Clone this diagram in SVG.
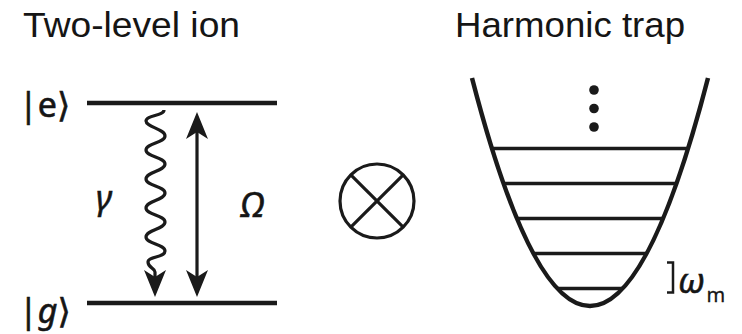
<svg xmlns="http://www.w3.org/2000/svg" width="742" height="334" viewBox="0 0 742 334">
<style>
.title{font-family:"Liberation Sans",Arial,sans-serif;font-size:35px;fill:#151515}
.lbl{font-family:"Noto Sans","DejaVu Sans",sans-serif;font-size:34px;fill:#151515;stroke:#151515;stroke-width:0.6}
.it{font-style:italic}
.lvl{stroke:#1a1a1a;stroke-width:4.5;fill:none}
.thin{stroke:#1a1a1a;stroke-width:3.5;fill:none}
.arr{stroke:#1a1a1a;stroke-width:3.2;fill:none}
</style>
<defs>
<marker id="ah" markerUnits="userSpaceOnUse" markerWidth="30" markerHeight="24" viewBox="-8 -12 30 24" refX="0" refY="0" orient="auto-start-reverse" overflow="visible">
<path d="M-7,-11 L20,0 L-7,11 L0,0 Z" fill="#1a1a1a"/>
</marker>
</defs>
<rect width="742" height="334" fill="#fff"/>
<text class="title" x="23" y="37" textLength="217" lengthAdjust="spacingAndGlyphs">Two-level ion</text>
<text class="title" x="455" y="37" textLength="230" lengthAdjust="spacingAndGlyphs">Harmonic trap</text>
<g id="level-e">
<line class="lvl" x1="87" y1="103" x2="277" y2="103"/>
<text class="lbl" x="19" y="117">|e⟩</text>
</g>
<g id="level-g">
<line class="lvl" x1="87" y1="303" x2="277" y2="303"/>
<text class="lbl" x="19" y="323">|<tspan class="it">g</tspan>⟩</text>
</g>
<g id="connectors">
<path id="decay" class="arr" marker-end="url(#ah)" d="M164,110 C164,116 146,115 146,121 S165,129 165,136 S146,143 146,150 S165,157 165,164 S146,172 146,179 S165,186 165,193 S146,201 146,208 S165,215 165,222 S146,230 146,237 S165,244 165,251 S148,256 148,262 S155,268 155,272 L155,277"/>
<line id="drive" class="arr" x1="197" y1="132" x2="197" y2="277" marker-start="url(#ah)" marker-end="url(#ah)"/>
</g>
<text class="lbl it" x="96" y="210">γ</text>
<text class="lbl it" x="241" y="217" font-size="36">Ω</text>
<g id="tensor">
<circle cx="377" cy="201" r="37" class="arr"/>
<line class="arr" x1="350.8" y1="174.8" x2="403.2" y2="227.2"/>
<line class="arr" x1="403.2" y1="174.8" x2="350.8" y2="227.2"/>
</g>
<g id="trap">
<path class="lvl" d="M472,78 Q590,534 708,78"/>
<line class="thin" x1="492" y1="148.5" x2="688" y2="148.5"/>
<line class="thin" x1="503.6" y1="183.5" x2="676.4" y2="183.5"/>
<line class="thin" x1="516.9" y1="218.5" x2="663.1" y2="218.5"/>
<line class="thin" x1="533.4" y1="253.5" x2="646.6" y2="253.5"/>
<line class="thin" x1="557.3" y1="288.5" x2="622.7" y2="288.5"/>
<circle cx="594" cy="90" r="4.8" fill="#1a1a1a"/>
<circle cx="594" cy="108.5" r="4.8" fill="#1a1a1a"/>
<circle cx="594" cy="127" r="4.8" fill="#1a1a1a"/>
</g>
<g id="omega-m">
<path d="M667,262.5 H673 V292.5 H667" stroke="#1a1a1a" stroke-width="2.5" fill="none"/>
<text class="lbl it" x="678" y="293">ω<tspan font-style="normal" font-size="20" stroke-width="0.3" dx="2" dy="9">m</tspan></text>
</g>
</svg>
